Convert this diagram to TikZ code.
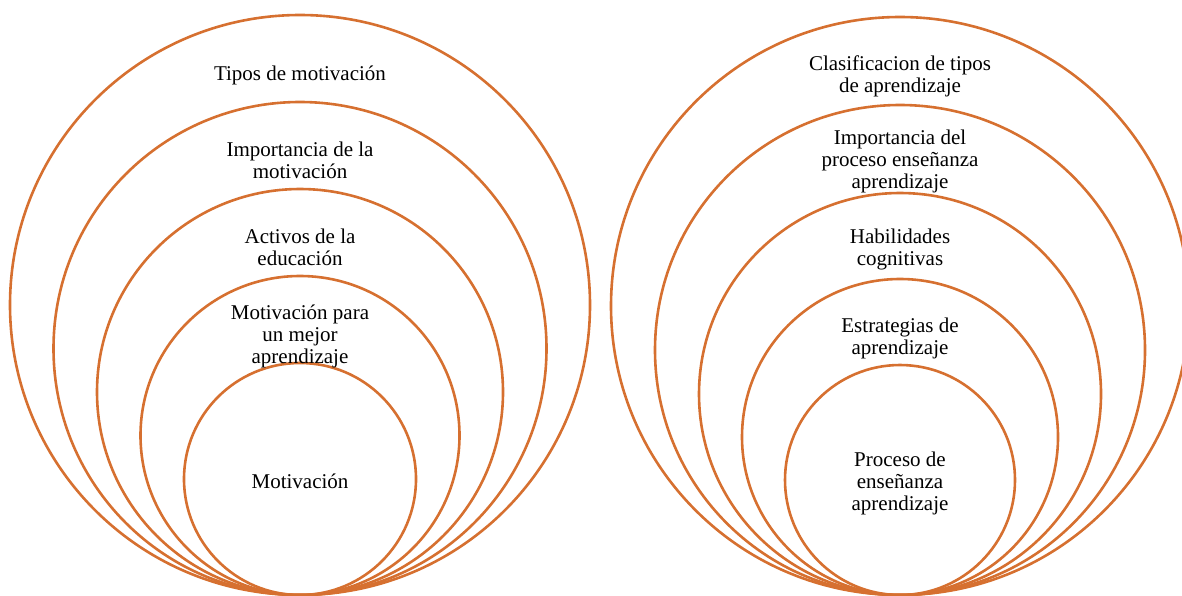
\documentclass[tikz,border=0pt]{standalone}
\usepackage{fontspec}
\setmainfont{Liberation Serif}
\definecolor{ring}{RGB}{214,112,48}
\begin{document}
\begin{tikzpicture}[x=1pt,y=-1pt,
  ringline/.style={draw=ring,line width=2.6pt},
  lbl/.style={align=center,inner sep=0pt,font=\fontsize{21}{22}\selectfont,text=black}]
\useasboundingbox (0,0) rectangle (1182,595);
\clip (0,0) rectangle (1182,595);
% left set
\foreach \r in {290,246.5,203,159.5,116}{
  \draw[ringline] (300,{595-\r}) circle[radius=\r pt];
}
% right set
\foreach \r in {289,245,201,158,115}{
  \draw[ringline] (900,{595-\r}) circle[radius=\r pt];
}
\node[lbl] (l1) at (300,75) {Tipos de motivación};
\node[lbl] (l2) at (300,160) {Importancia de la\\motivación};
\node[lbl] (l3) at (300,247) {Activos de la\\educación};
\node[lbl] (l4) at (300,336) {Motivación para\\un mejor\\aprendizaje};
\node[lbl] (l5) at (300,481) {Motivación};
\node[lbl] (r1) at (900,76) {Clasificacion de tipos\\de aprendizaje};
\node[lbl] (r2) at (900,161) {Importancia del\\proceso enseñanza\\aprendizaje};
\node[lbl] (r3) at (900,249) {Habilidades\\cognitivas};
\node[lbl] (r4) at (900,338) {Estrategias de\\aprendizaje};
\node[lbl] (r5) at (900,483) {Proceso de\\enseñanza\\aprendizaje};
\end{tikzpicture}
\end{document}
